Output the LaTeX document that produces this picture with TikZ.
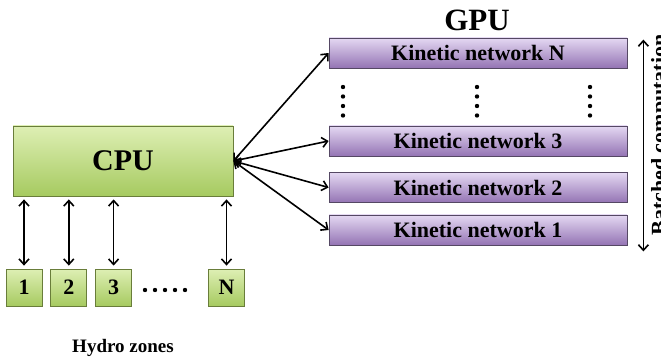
\documentclass[tikz,border=0pt]{standalone}
\usepackage{fontspec}
\setmainfont{Liberation Serif}
\usepackage{xcolor}
\usetikzlibrary{arrows.meta, positioning}

\definecolor{cpuTop}{RGB}{222,239,180}
\definecolor{cpuBot}{RGB}{166,202,96}
\definecolor{cpuLine}{RGB}{105,125,58}
\definecolor{kinTop}{RGB}{228,216,242}
\definecolor{kinBot}{RGB}{148,116,180}
\definecolor{kinLine}{RGB}{85,72,100}

\begin{document}
\begin{tikzpicture}[
	  x=1pt, y=-1pt,
	  font=\bfseries,
	  node distance=8pt,
	  gbox/.style={
	    draw=cpuLine,
	    line width=0.8pt,
	    top color=cpuTop,
	    bottom color=cpuBot,
	    inner sep=0pt
	  },
	  cpubox/.style={gbox,minimum width=220pt,minimum height=70pt,font=\fontsize{30}{30}\selectfont\bfseries},
	  zonebox/.style={gbox,minimum width=36pt,minimum height=37pt,font=\fontsize{22}{22}\selectfont\bfseries},
	  kinbox/.style={
	    draw=kinLine,
	    line width=0.8pt,
	    top color=kinTop,
	    bottom color=kinBot,
	    inner sep=0pt,
	    minimum width=298pt,
	    minimum height=30pt,
	    font=\fontsize{22}{22}\selectfont\bfseries
	  },
	  arrow/.style={{Straight Barb[length=5.5pt,width=10pt]}-{Straight Barb[length=5.5pt,width=10pt]},line width=1.6pt},
	  shortarrow/.style={arrow,shorten >=3pt,shorten <=3pt}
	]
	\useasboundingbox (0,0) rectangle (661,358);
	
	% CPU side
	\node[cpubox] (cpu) at (123,161) {CPU};
	\node[zonebox] (z1) at (24,287.5) {1};
	\node[zonebox,right=of z1] (z2) {2};
	\node[zonebox,right=of z2] (z3) {3};
	\node[zonebox] (zN) at (226.5,287.5) {N};
	\node[font=\fontsize{19}{19}\selectfont\bfseries] (hydro) at (123,348) {Hydro zones};
	\foreach \dx in {145,155,165,175,185}
	  \fill (\dx,290) circle (2.2pt);
	
	% GPU side
	\node[font=\fontsize{31}{31}\selectfont\bfseries] (gpu) at (477,20) {GPU};
	\node[kinbox] (kN) at (478,53) {Kinetic network N};
	\node[kinbox] (k3) at (478,141) {Kinetic network 3};
	\node[kinbox] (k2) at (478,187.5) {Kinetic network 2};
	\node[kinbox] (k1) at (478,230) {Kinetic network 1};
	\foreach \dx in {343,477,590}
	  \foreach \dy in {87,96.5,106,115.5}
	    \fill (\dx,\dy) circle (2.2pt);
	\node[rotate=90,font=\fontsize{22}{22}\selectfont\bfseries] (batch) at (661,135) {Batched computation};
	
	\foreach \z in {z1,z2,z3,zN}
	  \draw[shortarrow] (\z.north) -- (\z.north |- cpu.south);
	\foreach \k in {kN,k3,k2,k1}
	  \draw[arrow] (cpu.east) -- (\k.west);
	\draw[arrow] ([xshift=16pt,yshift=-2pt]kN.north east) -- ([xshift=16pt,yshift=-6pt]k1.south east);
	
	\end{tikzpicture}
\end{document}
